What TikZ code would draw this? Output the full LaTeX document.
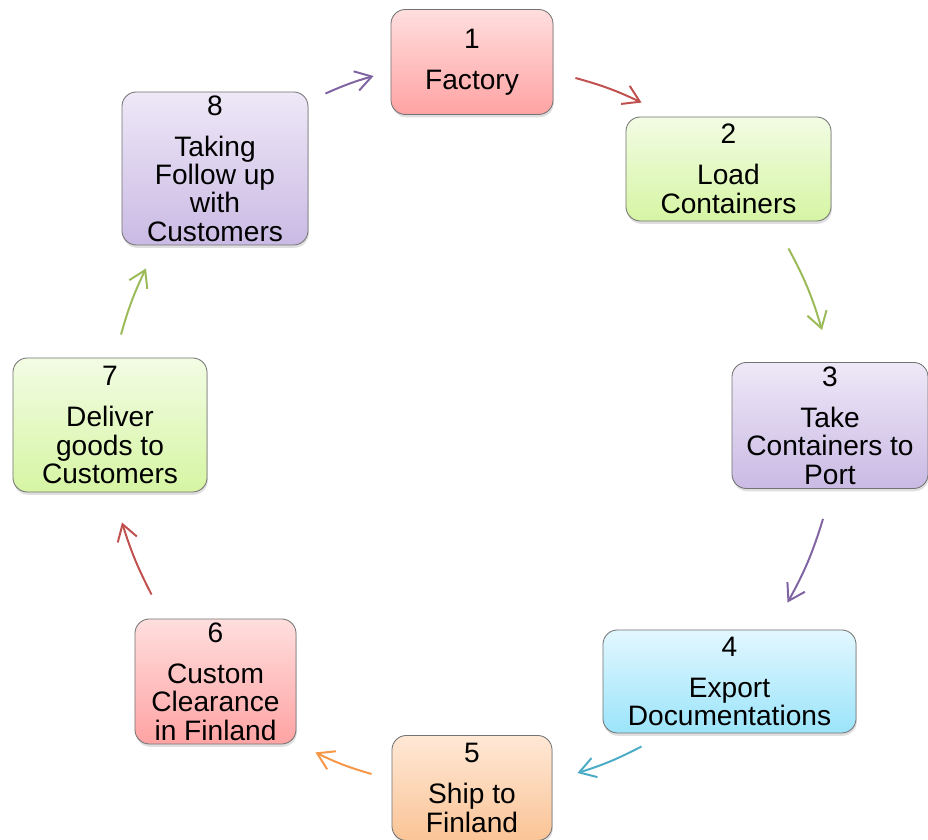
\documentclass[tikz,border=0pt]{standalone}
\usepackage{fontspec}
\setmainfont{Liberation Sans}
\usepackage{xcolor}
\usepackage{tikz}
\usetikzlibrary{arrows.meta,shadows}
% line colours
\definecolor{redline}{HTML}{C0504D}
\definecolor{greenline}{HTML}{9BBB59}
\definecolor{purpleline}{HTML}{8064A2}
\definecolor{cyanline}{HTML}{4BACC6}
\definecolor{orangeline}{HTML}{F79646}
% box fills
\definecolor{redtop}{RGB}{255,222,222}
\definecolor{redbot}{RGB}{255,163,163}
\definecolor{greentop}{RGB}{242,252,228}
\definecolor{greenbot}{RGB}{214,245,163}
\definecolor{purpletop}{RGB}{238,232,247}
\definecolor{purplebot}{RGB}{202,186,228}
\definecolor{cyantop}{RGB}{226,247,255}
\definecolor{cyanbot}{RGB}{155,228,250}
\definecolor{orangetop}{RGB}{255,232,214}
\definecolor{orangebot}{RGB}{250,196,150}

\begin{document}
\begin{tikzpicture}[
    x=0.025cm, y=0.025cm,
    box/.style={rectangle, draw=black!55, line width=0.6pt, rounded corners=0.36cm, align=center, inner sep=1pt, font=\fontsize{20}{20.2}\selectfont, drop shadow={opacity=0.25, shadow xshift=0.02cm, shadow yshift=-0.07cm}},
    redbox/.style={box, top color=redtop, bottom color=redbot},
    greenbox/.style={box, top color=greentop, bottom color=greenbot},
    purplebox/.style={box, top color=purpletop, bottom color=purplebot},
    cyanbox/.style={box, top color=cyantop, bottom color=cyanbot},
    orangebox/.style={box, top color=orangetop, bottom color=orangebot},
    arrow/.style={-{Straight Barb[length=0.4cm, width=0.5cm]}, line width=1.4pt}
]
    \useasboundingbox (0,0) rectangle (928,840);

    % Steps round the cycle
    \node[redbox, minimum width=4.05cm, minimum height=2.625cm] (factory) at (472,778) {1\\[9pt]Factory};
    \node[greenbox, minimum width=5.125cm, minimum height=2.6cm] (load) at (728.5,671) {2\\[9pt]Load\\Containers};
    \node[purplebox, minimum width=4.9cm, minimum height=3.15cm] (port) at (830,414.5) {3\\[9pt]Take\\Containers to\\Port};
    \node[cyanbox, minimum width=6.325cm, minimum height=2.575cm] (export) at (729.5,158.5) {4\\[9pt]Export\\Documentations};
    \node[orangebox, minimum width=4.0cm, minimum height=2.625cm] (ship) at (472,52) {5\\[9pt]Ship to\\Finland};
    \node[redbox, minimum width=4.025cm, minimum height=3.125cm] (custom) at (215.5,158.5) {6\\[9pt]Custom\\Clearance\\in Finland};
    \node[greenbox, minimum width=4.85cm, minimum height=3.35cm] (deliver) at (110,415) {7\\[9pt]Deliver\\goods to\\Customers};
    \node[purplebox, minimum width=4.65cm, minimum height=3.825cm] (follow) at (215,671.5) {8\\[9pt]Taking\\Follow up\\with\\Customers};

    % Arrows between the steps
    \draw[arrow, purpleline, bend left=4] ([shift={(17,-2)}]follow.north east) to ([shift={(-17,-14)}]factory.west);
    \draw[arrow, redline, bend left=5] ([shift={(22,-16)}]factory.east) to ([shift={(16,14)}]load.north west);
    \draw[arrow, greenline, bend left=6] ([shift={(-43,-27)}]load.south east) to ([shift={(-8,32)}]port.north);
    \draw[arrow, purpleline, bend left=6] ([shift={(-7,-30)}]port.south) to ([shift={(58,27)}]export.north);
    \draw[arrow, cyanline, bend left=5] ([shift={(39,-13)}]export.south west) to ([shift={(25,15)}]ship.east);
    \draw[arrow, orangeline, bend left=5] ([shift={(-20,14)}]ship.west) to ([shift={(19,-8)}]custom.south east);
    \draw[arrow, redline, bend left=5] ([shift={(17,24)}]custom.north west) to ([shift={(12,-30)}]deliver.south);
    \draw[arrow, greenline, bend left=5] ([shift={(11,23)}]deliver.north) to ([shift={(-69,-23)}]follow.south);
\end{tikzpicture}
\end{document}
